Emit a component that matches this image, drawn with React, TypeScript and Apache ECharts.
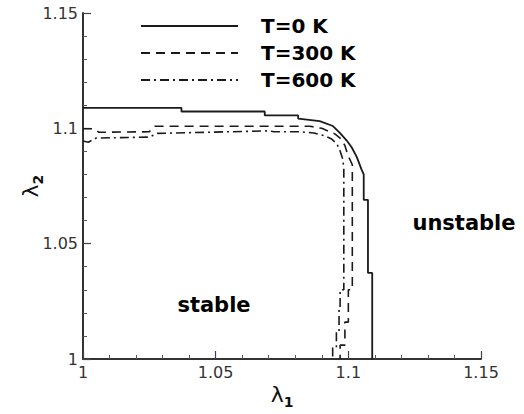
import React, { useEffect, useRef } from "react";
import * as echarts from "echarts";

const seriesNames = ["T=0 K", "T=300 K", "T=600 K"];

const t0Lambda1 = [1.0, 1.0371, 1.0371, 1.0685, 1.0685, 1.0811, 1.0811, 1.0892, 1.0942, 1.0968, 1.0994, 1.1013, 1.1032, 1.105, 1.1058, 1.1058, 1.1074, 1.1074, 1.109, 1.109];
const t0Lambda2 = [1.1089, 1.1089, 1.1073, 1.1073, 1.1056, 1.1056, 1.1042, 1.1031, 1.101, 1.098, 1.0947, 1.0917, 1.0875, 1.0821, 1.08, 1.069, 1.069, 1.0373, 1.0373, 1.0];

const t300Lambda1 = [1.0, 1.004, 1.006, 1.025, 1.027, 1.0855, 1.09, 1.0949, 1.0968, 1.0987, 1.0998, 1.1015, 1.1015, 1.1, 1.1, 1.0987, 1.0987, 1.0969, 1.0969];
const t300Lambda2 = [1.0998, 1.0998, 1.0983, 1.0985, 1.1009, 1.1009, 1.1, 1.0976, 1.0959, 1.0926, 1.0884, 1.0842, 1.03, 1.03, 1.016, 1.016, 1.006, 1.006, 1.0];

const t600Lambda1 = [1.0, 1.002, 1.005, 1.025, 1.028, 1.07, 1.072, 1.0817, 1.087, 1.091, 1.0935, 1.0956, 1.0968, 1.0978, 1.0983, 1.0983, 1.0969, 1.0969, 1.0965, 1.0965, 1.0955, 1.0955, 1.0941, 1.0941];
const t600Lambda2 = [1.0945, 1.094, 1.0958, 1.0962, 1.0978, 1.0989, 1.0985, 1.0985, 1.098, 1.0968, 1.0955, 1.0935, 1.0905, 1.087, 1.083, 1.03, 1.03, 1.022, 1.022, 1.012, 1.012, 1.005, 1.005, 1.0];

const axisMin = 1.0;
const axisMax = 1.15;
const axisInterval = 0.05;

const zip = (a: number[], b: number[]) => a.map((v, i) => [v, b[i]]);

export default function App() {
  const ref = useRef<HTMLDivElement>(null);
  useEffect(() => {
    if (!ref.current) return;
    const chart = echarts.init(ref.current, null, { renderer: "svg" });
    const lineColor = "#1a1a1a";
    const axisCommon = {
      type: "value" as const,
      min: axisMin,
      max: axisMax,
      interval: axisInterval,
      splitLine: { show: false },
      axisLine: { show: true, onZero: false, lineStyle: { color: "#333", width: 2 } },
      axisTick: { show: true, inside: true, length: 8, lineStyle: { color: "#444", width: 1.2 } },
      minorTick: { show: true, splitNumber: 5, length: 4, lineStyle: { color: "#555", width: 1 } },
      axisLabel: {
        fontFamily: "DejaVu Sans",
        fontSize: 16,
        color: "#333",
        margin: 5,
        formatter: (v: number) => String(parseFloat(v.toFixed(4))),
      },
      nameLocation: "middle" as const,
      nameMoveOverlap: false,
    };
    const subRich = {
      a: { fontFamily: "DejaVu Sans", fontSize: 22, color: "#111" },
      b: { fontFamily: "DejaVu Sans", fontSize: 14, fontWeight: "bold", color: "#111", padding: [16, 0, 0, 0] },
    };
    chart.setOption({
      animation: false,
      backgroundColor: "#fff",
      grid: { left: 83, right: 43, top: 13, bottom: 43, containLabel: false },
      legend: {
        orient: "vertical",
        left: 140,
        top: 15,
        padding: 0,
        itemWidth: 97,
        itemHeight: 14,
        itemGap: 5,
        data: seriesNames,
        itemStyle: { opacity: 0 },
        textStyle: {
          fontFamily: "DejaVu Sans",
          fontWeight: "bold",
          fontSize: 20,
          lineHeight: 22,
          color: "#000",
          padding: [0, 0, 0, 18],
        },
      },
      xAxis: {
        ...axisCommon,
        name: "{a|λ}{b|1}",
        nameGap: 20,
        nameTextStyle: { rich: subRich },
      },
      yAxis: {
        ...axisCommon,
        name: "{a|λ}{b|2}",
        nameGap: 38,
        nameRotate: 90,
        nameTextStyle: { rich: subRich },
      },
      graphic: [
        {
          type: "text",
          x: 214,
          y: 305,
          style: {
            text: "stable",
            font: "bold 21px 'DejaVu Sans'",
            fill: "#000",
            textAlign: "center",
            textVerticalAlign: "middle",
          },
        },
        {
          type: "text",
          x: 464,
          y: 223,
          style: {
            text: "unstable",
            font: "bold 21px 'DejaVu Sans'",
            fill: "#000",
            textAlign: "center",
            textVerticalAlign: "middle",
          },
        },
      ],
      series: [
        {
          name: seriesNames[0],
          type: "line",
          symbol: "none",
          data: zip(t0Lambda1, t0Lambda2),
          lineStyle: { color: lineColor, width: 1.8, type: "solid" },
          itemStyle: { color: lineColor },
        },
        {
          name: seriesNames[1],
          type: "line",
          symbol: "none",
          data: zip(t300Lambda1, t300Lambda2),
          lineStyle: { color: lineColor, width: 1.6, type: [9, 6] },
          itemStyle: { color: lineColor },
        },
        {
          name: seriesNames[2],
          type: "line",
          symbol: "none",
          data: zip(t600Lambda1, t600Lambda2),
          lineStyle: { color: lineColor, width: 1.6, type: [9, 4, 2, 4] },
          itemStyle: { color: lineColor },
        },
      ],
    });
    return () => chart.dispose();
  }, []);
  return (
    <div
      ref={ref}
      style={{ position: "fixed", left: 0, top: 0, width: 524, height: 414, background: "#fff" }}
    />
  );
}
